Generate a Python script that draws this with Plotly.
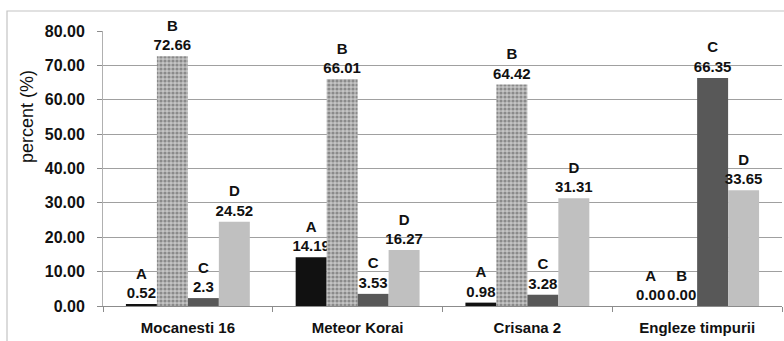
import plotly.graph_objects as go

categories = ["Mocanesti 16", "Meteor Korai", "Crisana 2", "Engleze timpurii"]
series_names = ["A", "B", "C", "D"]
values_A = [0.52, 14.19, 0.98, 0.00]
values_B = [72.66, 66.01, 64.42, 0.00]
values_C = [2.3, 3.53, 3.28, 66.35]
values_D = [24.52, 16.27, 31.31, 33.65]
labels_A = ["0.52", "14.19", "0.98", "0.00"]
labels_B = ["72.66", "66.01", "64.42", "0.00"]
labels_C = ["2.3", "3.53", "3.28", "66.35"]
labels_D = ["24.52", "16.27", "31.31", "33.65"]
y_ticks = [0, 10, 20, 30, 40, 50, 60, 70, 80]
y_title = "percent (%)"

FONT = "Liberation Sans"
W, H = 784, 341
L, R, T, B = 103, 2, 31, 35

series = [
    ("A", values_A, labels_A, dict(color="#111111")),
    ("B", values_B, labels_B, dict(color="#a0a0a0",
                                   pattern=dict(shape=".", fgcolor="#505050", bgcolor="#c4c4c4",
                                                size=4, solidity=0.5))),
    ("C", values_C, labels_C, dict(color="#585858")),
    ("D", values_D, labels_D, dict(color="#c0c0c0")),
]

fig = go.Figure()
for name, vals, labs, marker in series:
    fig.add_trace(go.Bar(
        x=categories, y=vals, name=name,
        marker=dict(line=dict(width=0), **marker),
        text=[f"{name}<br>{t}" for t in labs],
        textposition="outside",
        textfont=dict(family=FONT, size=15, color="#111111", weight="bold"),
        constraintext="none",
        cliponaxis=False,
        hoverinfo="skip",
    ))

px_w = W - L - R
px_h = H - T - B
fig.add_shape(type="rect", xref="paper", yref="paper",
              x0=(7 - L) / px_w, x1=1.02, y0=-0.3, y1=(H - B - 11) / px_h,
              line=dict(color="#c4c4c4", width=1.2), fillcolor="rgba(0,0,0,0)", layer="below")

fig.add_annotation(
    text=y_title, textangle=-90, showarrow=False,
    xref="paper", yref="paper",
    x=(27 - L) / px_w, y=(H - B - 117) / px_h,
    xanchor="center", yanchor="middle",
    font=dict(family=FONT, size=18, color="#111111"),
)

fig.update_layout(
    width=W, height=H,
    margin=dict(l=L, r=R, t=T, b=B, autoexpand=False),
    paper_bgcolor="white", plot_bgcolor="white",
    barmode="group", bargap=0.27, bargroupgap=0,
    showlegend=False,
    font=dict(family=FONT, color="#111111"),
)
fig.update_xaxes(
    type="category",
    showline=True, linecolor="#8c8c8c", linewidth=1,
    ticks="outside", tickson="boundaries", ticklen=5, tickcolor="#8c8c8c",
    tickfont=dict(family=FONT, size=15, color="#111111", weight="bold"),
    ticklabelstandoff=8,
    showgrid=False,
)
fig.update_yaxes(
    range=[0, 80], tickvals=y_ticks, tickformat=".2f",
    showline=True, linecolor="#b0b0b0", linewidth=1,
    ticks="outside", ticklen=5, tickcolor="#8c8c8c",
    tickfont=dict(family=FONT, size=16, color="#111111", weight="bold"),
    ticklabelstandoff=9,
    showgrid=True, gridcolor="#a0a0a0", gridwidth=1,
    zeroline=False,
    automargin=False,
)

fig.write_html("out.html")
